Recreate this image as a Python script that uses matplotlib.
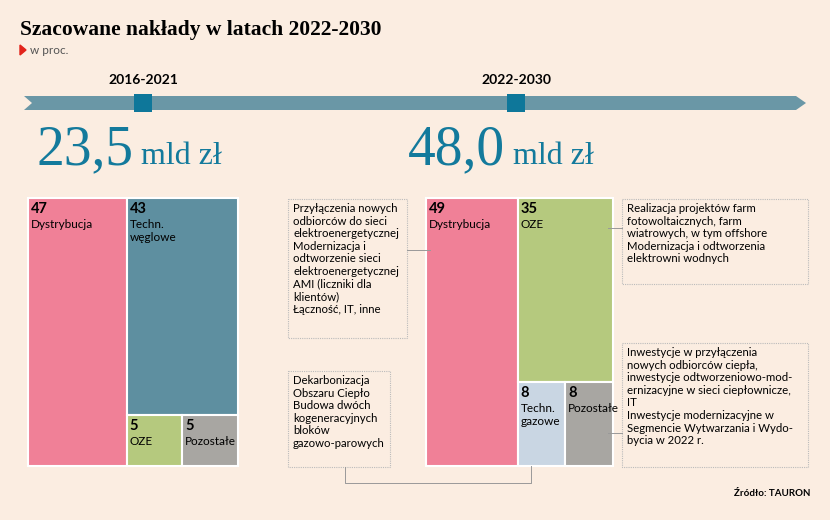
import matplotlib
matplotlib.use("Agg")
import matplotlib.pyplot as plt
from matplotlib.patches import Rectangle, Polygon

BG = "#FBEDE1"
C_DIST = "#F08097"
C_COAL = "#5E8FA0"
C_OZE = "#B5C97E"
C_OTHER = "#A8A6A2"
C_GAS = "#C9D6E3"
C_BLUE = "#137A9C"

# data
periods = ["2016-2021", "2022-2030"]
totals = ["23,5", "48,0"]
left_labels = ["Dystrybucja", "Techn.\nwęglowe", "OZE", "Pozostałe"]
left_values = [47, 43, 5, 5]
left_colors = [C_DIST, C_COAL, C_OZE, C_OTHER]
right_labels = ["Dystrybucja", "OZE", "Techn.\ngazowe", "Pozostałe"]
right_values = [49, 35, 8, 8]
right_colors = [C_DIST, C_OZE, C_GAS, C_OTHER]

notes = [
    ("Przyłączenia nowych\nodbiorców do sieci\nelektroenergetycznej\nModernizacja i\nodtworzenie sieci\nelektroenergetycznej\nAMI (liczniki dla\nklientów)\nŁączność, IT, inne", (288, 199, 407, 338)),
    ("Dekarbonizacja\nObszaru Ciepło\nBudowa dwóch\nkogeneracyjnych\nbloków\ngazowo-parowych", (288, 371, 390, 467)),
    ("Realizacja projektów farm\nfotowoltaicznych, farm\nwiatrowych, w tym offshore\nModernizacja i odtworzenia\nelektrowni wodnych", (622, 199, 808, 284)),
    ("Inwestycje w przyłączenia\nnowych odbiorców ciepła,\ninwestycje odtworzeniowo-mod-\nernizacyjne w sieci ciepłownicze,\nIT\nInwestycje modernizacyjne w\nSegmencie Wytwarzania i Wydo-\nbycia w 2022 r.", (622, 343, 808, 467)),
]

plt.rcParams["font.family"] = ["Lato", "DejaVu Sans"]
fig = plt.figure(figsize=(8.3, 5.2), dpi=100, facecolor=BG)
ax = fig.add_axes([0, 0, 1, 1])
ax.set_xlim(0, 830)
ax.set_ylim(520, 0)
ax.axis("off")
ax.set_facecolor(BG)

ax.text(20, 30, "Szacowane nakłady w latach 2022-2030", fontsize=15.5, fontweight="bold",
        family="Liberation Serif", va="center")
ax.add_patch(Polygon([(20, 45), (20, 55), (26, 50)], color="#E2231A"))
ax.text(30, 50, "w proc.", fontsize=8.5, color="#555555", va="center")

# timeline
ax.add_patch(Polygon([(24, 96), (796, 96), (806, 103), (796, 110), (24, 110), (32, 103)],
                     color="#6A97A6", lw=0))
for x, p in zip([143, 516], periods):
    ax.add_patch(Rectangle((x - 9, 94), 18, 18, color="#0E779A", lw=0))
    ax.text(x, 80, p, fontsize=10, fontweight="bold", ha="center", va="center")

for x, t in zip([36, 408], totals):
    tx = ax.text(x, 150, t, fontsize=40, family="Liberation Serif", color=C_BLUE,
                 va="center", stretch="condensed")
    fig.canvas.draw()
    bb = tx.get_window_extent().transformed(ax.transData.inverted())
    ax.text(bb.x1 + 8, 157, "mld zł", fontsize=23, family="Liberation Serif",
            color=C_BLUE, va="center")


def treemap(x0, x1, y0, y1, values, labels, colors):
    total = sum(values)
    xm = x0 + (x1 - x0) * values[0] / total
    rest = sum(values[1:])
    ym = y0 + (y1 - y0) * values[1] / rest
    xb = xm + (x1 - xm) * values[2] / (values[2] + values[3])
    rects = [(x0, y0, xm, y1), (xm, y0, x1, ym), (xm, ym, xb, y1), (xb, ym, x1, y1)]
    for (a, b, c, d), v, lab, col in zip(rects, values, labels, colors):
        ax.add_patch(Rectangle((a, b), c - a, d - b, facecolor=col, edgecolor="white", lw=1.5))
        ax.text(a + 3, b + 4, str(v), fontsize=10.5, fontweight="bold", va="top")
        ax.text(a + 3, b + 21, lab, fontsize=8.5, va="top", linespacing=1.2)


treemap(28, 238, 198, 466, left_values, left_labels, left_colors)
treemap(426, 613, 198, 466, right_values, right_labels, right_colors)

for txt, (a, b, c, d) in notes:
    ax.add_patch(Rectangle((a, b), c - a, d - b, facecolor="none", edgecolor="#BBBBBB",
                           lw=0.8, ls=(0, (1, 1))))
    ax.text(a + 5, b + 4, txt, fontsize=8.2, va="top", linespacing=1.18)

lc = "#999999"
ax.plot([407, 430], [250, 250], color=lc, lw=0.7)
ax.plot([608, 622], [228, 228], color=lc, lw=0.7)
ax.plot([608, 622], [433, 433], color=lc, lw=0.7)
ax.plot([345, 345, 531, 531], [467, 483, 483, 466], color=lc, lw=0.7)

ax.text(810, 494, "Źródło: TAURON", fontsize=7, fontweight="bold", ha="right", va="center")

fig.savefig("out.png", dpi=100, facecolor=BG)
